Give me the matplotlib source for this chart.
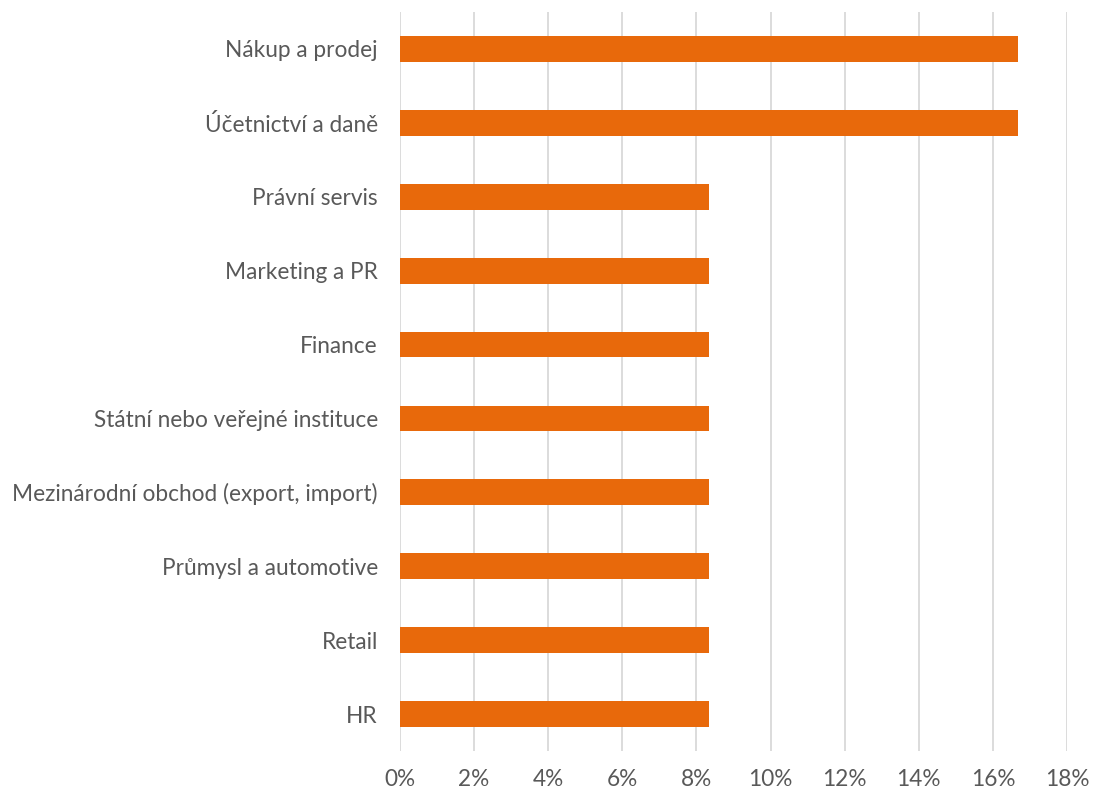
import matplotlib
matplotlib.use("Agg")
import matplotlib.pyplot as plt
from matplotlib.ticker import FuncFormatter

categories = ["Nákup a prodej", "Účetnictví a daně", "Právní servis", "Marketing a PR",
              "Finance", "Státní nebo veřejné instituce",
              "Mezinárodní obchod (export, import)", "Průmysl a automotive", "Retail", "HR"]
values = [16.67, 16.67, 8.33, 8.33, 8.33, 8.33, 8.33, 8.33, 8.33, 8.33]
xticks = [0, 2, 4, 6, 8, 10, 12, 14, 16, 18]

plt.rcParams['font.family'] = ['Lato', 'DejaVu Sans']
text_color = '#595959'

fig = plt.figure(figsize=(10.94, 7.91), dpi=100)
ax = fig.add_axes([400/1094, 1-751/791, 667/1094, 739/791])

y = list(range(len(categories)))
ax.barh(y, values, height=0.35, color='#E8690B', zorder=3)
ax.set_yticks(y)
ax.set_yticklabels(categories)
ax.set_ylim(len(categories)-0.5, -0.5)
ax.set_xlim(0, 18)
ax.set_xticks(xticks)
ax.xaxis.set_major_formatter(FuncFormatter(lambda v, p: f"{int(v)}%"))
ax.grid(axis='x', color='#D9D9D9', linewidth=1.3, zorder=0)
for s in ax.spines.values():
    s.set_visible(False)
ax.tick_params(axis='both', length=0, labelsize=16.3, colors=text_color)
ax.tick_params(axis='y', pad=16)
ax.tick_params(axis='x', pad=13)

fig.savefig("out.png", dpi=100)
